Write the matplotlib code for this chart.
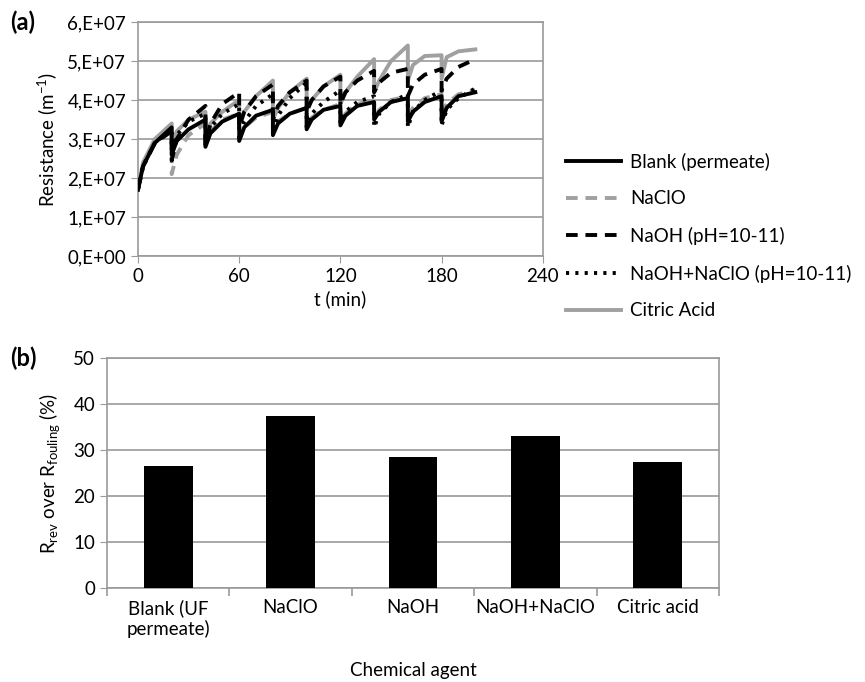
import numpy as np
import matplotlib
matplotlib.use('Agg')
import matplotlib.pyplot as plt
from matplotlib.ticker import FuncFormatter, FixedLocator

plt.rcParams['font.family'] = ['Lato', 'DejaVu Sans']
plt.rcParams['mathtext.fontset'] = 'custom'
plt.rcParams['mathtext.rm'] = 'Lato'
plt.rcParams['mathtext.it'] = 'Lato:italic'

# ---- (a) resistance vs time, values in 1E7 m-1, 4 points per 20 min cycle
t_min = [0, 3, 10, 20, 20, 23, 30, 40, 40, 43, 50, 60, 60, 63, 70, 80,
         80, 83, 90, 100, 100, 103, 110, 120, 120, 123, 130, 140,
         140, 143, 150, 160, 160, 163, 170, 180, 180, 183, 190, 200]

blank = [1.7, 2.3, 2.9, 3.3, 2.6, 2.95, 3.25, 3.5, 2.8, 3.15, 3.45, 3.65,
         2.95, 3.3, 3.6, 3.75, 3.1, 3.4, 3.65, 3.8, 3.25, 3.5, 3.75, 3.85,
         3.35, 3.6, 3.85, 3.95, 3.5, 3.7, 3.95, 4.05, 3.45, 3.7, 3.95, 4.1,
         3.45, 3.8, 4.1, 4.2]
naclo = [1.7, 2.3, 2.9, 3.3, 2.1, 2.6, 3.1, 3.4, 2.9, 3.2, 3.5, 3.65,
         3.0, 3.3, 3.55, 3.7, 3.2, 3.45, 3.65, 3.8, 3.35, 3.55, 3.75, 3.9,
         3.45, 3.65, 3.9, 4.0, 3.5, 3.75, 4.0, 4.1, 3.6, 3.8, 4.05, 4.15,
         3.7, 3.9, 4.15, 4.25]
naoh = [1.7, 2.3, 2.9, 3.2, 2.45, 3.0, 3.5, 3.85, 2.85, 3.4, 3.9, 4.2,
        3.3, 3.7, 4.1, 4.4, 3.5, 3.85, 4.2, 4.5, 3.7, 4.0, 4.35, 4.6,
        3.9, 4.2, 4.5, 4.75, 4.2, 4.45, 4.7, 4.8, 4.1, 4.4, 4.65, 4.8,
        4.25, 4.55, 4.85, 5.05]
naoh_naclo = [1.7, 2.3, 2.9, 3.25, 2.7, 3.1, 3.45, 3.65, 2.9, 3.3, 3.65, 3.9,
              3.0, 3.45, 3.85, 4.15, 3.15, 3.6, 4.05, 4.45, 3.3, 3.65, 3.95, 4.25,
              3.4, 3.7, 3.95, 4.1, 3.3, 3.65, 3.95, 4.15, 3.3, 3.7, 4.0, 4.25,
              3.35, 3.75, 4.05, 4.3]
citric = [1.7, 2.4, 3.0, 3.4, 2.9, 3.2, 3.5, 3.7, 3.1, 3.4, 3.7, 4.0,
          3.4, 3.7, 4.1, 4.5, 3.5, 3.8, 4.2, 4.55, 3.8, 4.0, 4.35, 4.65,
          3.9, 4.2, 4.6, 5.05, 4.2, 4.5, 5.0, 5.4, 4.5, 4.9, 5.13, 5.15,
          4.55, 5.1, 5.25, 5.3]

# ---- (b) reversible resistance share
agents = ['Blank (UF\npermeate)', 'NaClO', 'NaOH', 'NaOH+NaClO', 'Citric acid']
r_rev = [26.5, 37.5, 28.5, 33.0, 27.5]

grid_c = '#9a9a9a'
fs = 13.5
fig = plt.figure(figsize=(8.65, 6.82), dpi=100)

ax1 = fig.add_axes([0.1595, 0.6246, 0.468, 0.343])
t = np.array(t_min)
ax1.plot(t, np.array(blank) * 1e7, color='black', lw=2.8, label='Blank (permeate)', zorder=3)
ax1.plot(t, np.array(naclo) * 1e7, color='#a0a0a0', lw=2.8, ls=(0, (3, 2)), label='NaClO', zorder=2)
ax1.plot(t, np.array(naoh) * 1e7, color='black', lw=2.8, ls=(0, (3, 2)), label='NaOH (pH=10-11)', zorder=4)
ax1.plot(t, np.array(naoh_naclo) * 1e7, color='black', lw=2.8, ls=(0, (0.8, 1.6)),
         label='NaOH+NaClO (pH=10-11)', zorder=5)
ax1.plot(t, np.array(citric) * 1e7, color='#a0a0a0', lw=2.8, label='Citric Acid', zorder=1)

ax1.set_xlim(0, 240)
ax1.set_ylim(0, 6e7)
ax1.set_xticks([0, 60, 120, 180, 240])
ax1.set_yticks(np.arange(0, 7e7, 1e7))
ax1.yaxis.set_major_formatter(FuncFormatter(
    lambda v, p: '0,E+00' if v == 0 else '%d,E+07' % round(v / 1e7)))
ax1.grid(axis='y', color=grid_c, lw=1.2)
ax1.set_axisbelow(True)
for s in ax1.spines.values():
    s.set_color(grid_c)
    s.set_linewidth(1.2)
ax1.tick_params(labelsize=fs, color=grid_c, length=5, direction='out')
ax1.set_xlabel('t (min)', fontsize=fs, labelpad=4)
ax1.set_ylabel('Resistance (m$^{-1}$)', fontsize=fs, labelpad=6)
fig.text(0.012, 0.968, '(a)', fontsize=17, fontweight='bold', va='center')

fig.legend(loc='center left', bbox_to_anchor=(0.635, 0.654), frameon=False,
           fontsize=fs, handlelength=2.9, labelspacing=1.05, handletextpad=0.5)

ax2 = fig.add_axes([0.1237, 0.1378, 0.7075, 0.337])
x = np.arange(len(agents))
ax2.bar(x, r_rev, width=0.4, color='black', zorder=3)
ax2.set_xlim(-0.5, len(agents) - 0.5)
ax2.set_ylim(0, 50)
ax2.set_yticks(range(0, 51, 10))
ax2.set_xticks(x)
ax2.set_xticklabels(agents, fontsize=fs)
ax2.tick_params(axis='x', length=0, pad=8)
ax2.xaxis.set_minor_locator(FixedLocator(np.arange(-0.5, len(agents), 1.0)))
ax2.tick_params(axis='x', which='minor', length=6, color=grid_c, width=1.2)
ax2.tick_params(axis='y', labelsize=fs, color=grid_c, length=5)
ax2.grid(axis='y', color=grid_c, lw=1.2)
ax2.set_axisbelow(True)
for s in ax2.spines.values():
    s.set_color(grid_c)
    s.set_linewidth(1.2)
ax2.set_xlabel('Chemical agent', fontsize=fs, labelpad=17)
ax2.set_ylabel(r'R$_{\rm rev}$ over R$_{\rm fouling}$ (%)', fontsize=fs, labelpad=8)
fig.text(0.012, 0.475, '(b)', fontsize=17, fontweight='bold', va='center')

fig.savefig('out.png', dpi=100)
